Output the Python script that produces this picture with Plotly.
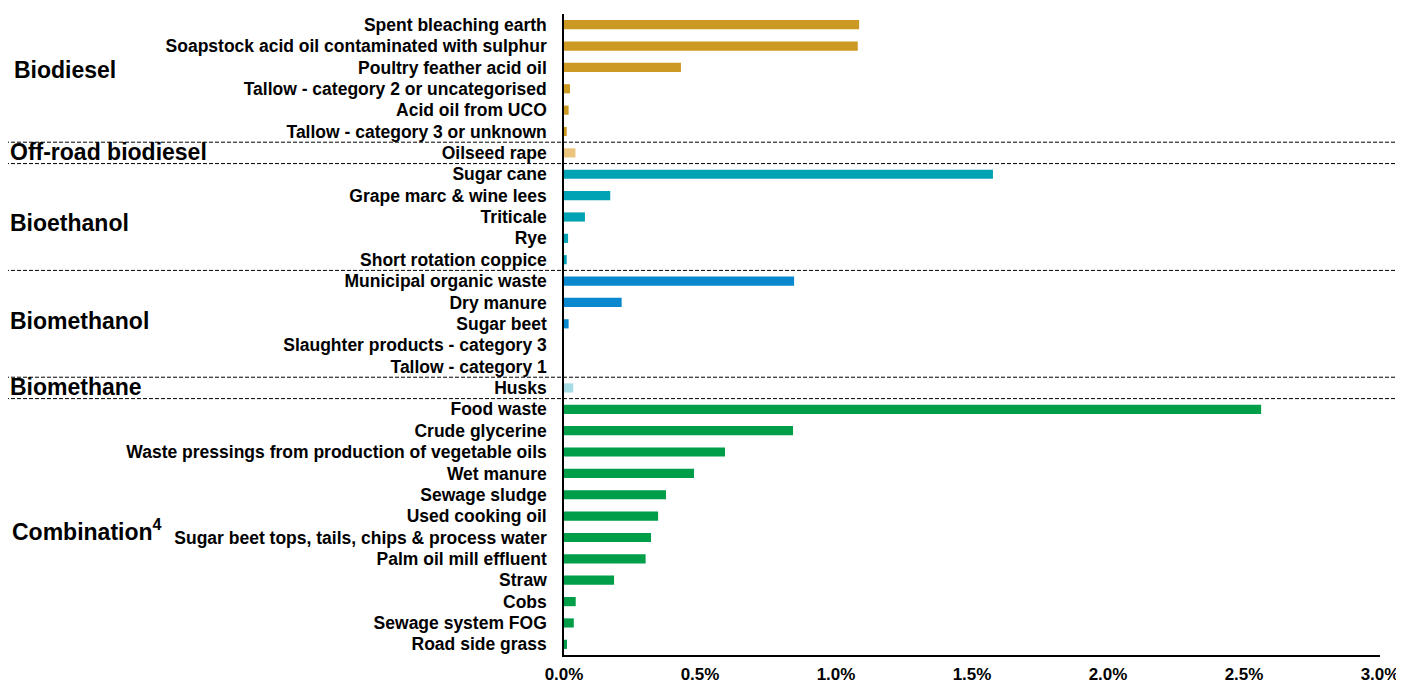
import plotly.graph_objects as go

categories = [
    "Spent bleaching earth", "Soapstock acid oil contaminated with sulphur", "Poultry feather acid oil",
    "Tallow - category 2 or uncategorised", "Acid oil from UCO", "Tallow - category 3 or unknown",
    "Oilseed rape",
    "Sugar cane", "Grape marc & wine lees", "Triticale", "Rye", "Short rotation coppice",
    "Municipal organic waste", "Dry manure", "Sugar beet", "Slaughter products - category 3", "Tallow - category 1",
    "Husks",
    "Food waste", "Crude glycerine", "Waste pressings from production of vegetable oils", "Wet manure",
    "Sewage sludge", "Used cooking oil", "Sugar beet tops, tails, chips & process water",
    "Palm oil mill effluent", "Straw", "Cobs", "Sewage system FOG", "Road side grass",
]
values = [
    1.085, 1.08, 0.43, 0.022, 0.017, 0.01,
    0.042,
    1.577, 0.17, 0.077, 0.015, 0.01,
    0.846, 0.212, 0.017, 0.0, 0.0,
    0.034,
    2.563, 0.842, 0.592, 0.478, 0.375, 0.346, 0.32, 0.30, 0.184, 0.043, 0.036, 0.011,
]
groups = ["Biodiesel"] * 6 + ["Off-road biodiesel"] + ["Bioethanol"] * 5 + ["Biomethanol"] * 5 + \
         ["Biomethane"] + ["Combination"] * 12
group_names = ["Biodiesel", "Off-road biodiesel", "Bioethanol", "Biomethanol", "Biomethane", "Combination"]
group_labels = ["Biodiesel", "Off-road biodiesel", "Bioethanol", "Biomethanol", "Biomethane", "Combination<sup>4</sup>"]
group_colors = ["#CC9A22", "#EBC47E", "#00A3B4", "#0A88CF", "#A6DCE4", "#009E48"]
group_label_pos = [2.13, 5.95, 9.3, 13.85, 16.95, 23.65]
group_label_x = [12, 8, 8, 8, 8, 10]
separators = [5.5, 6.5, 11.5, 16.5, 17.5]
xticks = [0, 0.5, 1.0, 1.5, 2.0, 2.5, 3.0]
xticktext = ["0.0%", "0.5%", "1.0%", "1.5%", "2.0%", "2.5%", "3.0%"]

idx = list(range(len(categories)))
color_map = dict(zip(group_names, group_colors))

fig = go.Figure()
for g in group_names:
    ys = [i for i in idx if groups[i] == g]
    fig.add_trace(go.Bar(
        x=[values[i] for i in ys], y=ys, orientation="h",
        marker=dict(color=color_map[g], line=dict(width=0)),
        showlegend=False, hoverinfo="skip",
    ))

# page body adds an 8px offset; compensate
OFF = 8
FW, FH = 1404 - OFF, 684 - OFF
L, T = 564 - OFF, 14 - OFF
W, H = 816, 641
R, B = FW - L - W, FH - T - H
font_family = "Liberation Sans, Arial, sans-serif"

shapes = []
for s in separators:
    shapes.append(dict(type="line", xref="paper", yref="y",
                       x0=(5 - 564) / W, x1=(1398 - 564) / W, y0=s, y1=s,
                       line=dict(color="black", width=1, dash="4px,2px")))

annotations = []
for lab, pos, xp in zip(group_labels, group_label_pos, group_label_x):
    annotations.append(dict(text="<b>" + lab + "</b>", xref="paper", yref="y",
                            x=(xp - 564) / W, y=pos, xanchor="left", yanchor="middle",
                            showarrow=False,
                            font=dict(size=23, color="black", family=font_family)))

fig.update_layout(
    width=FW, height=FH,
    margin=dict(l=L, r=R, t=T, b=B, pad=0),
    plot_bgcolor="white", paper_bgcolor="white",
    bargap=0.57, barmode="overlay",
    shapes=shapes, annotations=annotations,
    font=dict(family=font_family, color="black"),
)
fig.update_xaxes(
    range=[0, 3.0], tickvals=xticks, ticktext=xticktext, automargin=False,
    showgrid=False, zeroline=False, showline=True, linecolor="black", linewidth=1.5,
    ticks="", tickfont=dict(size=17, weight="bold", family=font_family, color="black"),
    ticklabelstandoff=3,
)
fig.update_yaxes(
    range=[len(categories) - 0.5, -0.5], tickvals=idx, ticktext=categories, automargin=False,
    showgrid=False, zeroline=False, showline=True, linecolor="black", linewidth=1.5,
    ticks="", tickfont=dict(size=17.5, weight="bold", family=font_family, color="black"),
    ticklabelstandoff=12,
)
fig.write_html("out.html")
